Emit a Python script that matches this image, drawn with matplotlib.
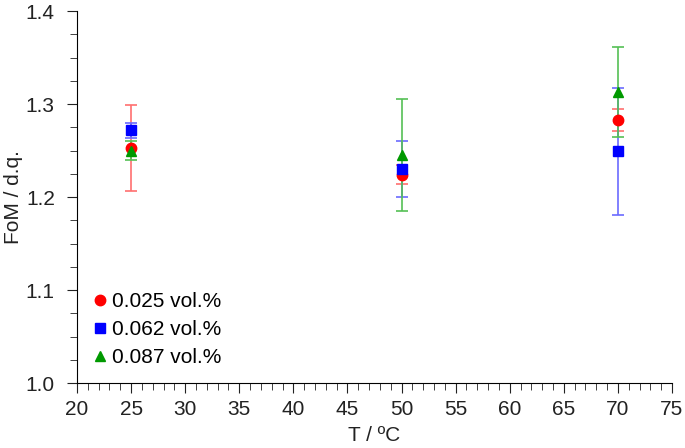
import matplotlib.pyplot as plt
from matplotlib.ticker import MultipleLocator
from matplotlib.lines import Line2D

plt.rcParams['font.family'] = ['Liberation Sans', 'DejaVu Sans']

temps = [25, 50, 70]
labels = ['0.025 vol.%', '0.062 vol.%', '0.087 vol.%']
fom_025 = [1.253, 1.224, 1.283]
err_025 = [0.046, 0.010, 0.012]
fom_062 = [1.272, 1.230, 1.249]
err_062 = [0.008, 0.030, 0.068]
fom_087 = [1.250, 1.245, 1.313]
err_087 = [0.010, 0.060, 0.048]

series = [
    (fom_025, err_025, 'o', '#ff0000', '#ff7070'),
    (fom_062, err_062, 's', '#0000ff', '#6b6bff'),
    (fom_087, err_087, '^', '#009900', '#55c055'),
]

fig = plt.figure(figsize=(6.85, 4.48), dpi=100)
ax = fig.add_axes([0.1124, 0.145, 0.8686, 0.8304])

handles = []
for (y, e, m, c, ec), lab in zip(series, labels):
    ax.errorbar(temps, y, yerr=e, fmt=m, color=c, ecolor=ec, elinewidth=1.2,
                capsize=4, capthick=1.2, markersize=7.5)
    handles.append(Line2D([], [], linestyle='none', marker=m, color=c,
                          markersize=7.5, label=lab))

ax.set_xlim(20, 75)
ax.set_ylim(1.0, 1.4)
ax.xaxis.set_major_locator(MultipleLocator(5))
ax.xaxis.set_minor_locator(MultipleLocator(1))
ax.yaxis.set_major_locator(MultipleLocator(0.1))
ax.yaxis.set_minor_locator(MultipleLocator(0.025))
ax.yaxis.set_major_formatter(plt.FormatStrFormatter('%.1f'))
ax.spines['top'].set_visible(False)
ax.spines['right'].set_visible(False)
ax.tick_params(which='both', direction='out', labelsize=15, colors='#222222')
ax.tick_params(which='major', length=7)
ax.tick_params(which='minor', length=5)
ax.tick_params(axis='y', which='major', pad=9)
ax.tick_params(axis='x', which='major', pad=5)
ax.set_xlabel('T / ºC', fontsize=15, color='#222222')
ax.set_ylabel('FoM / d.q.', fontsize=15, color='#222222')
ax.xaxis.set_label_coords(0.5, -0.115)
ax.yaxis.set_label_coords(-0.09, 0.5)

ax.legend(handles=handles, loc='lower left', frameon=False, fontsize=15,
          handletextpad=0.2, handlelength=0.8, labelspacing=0.42,
          bbox_to_anchor=(0.01, 0.021), borderaxespad=0.0)

fig.savefig('out.png', dpi=100)
